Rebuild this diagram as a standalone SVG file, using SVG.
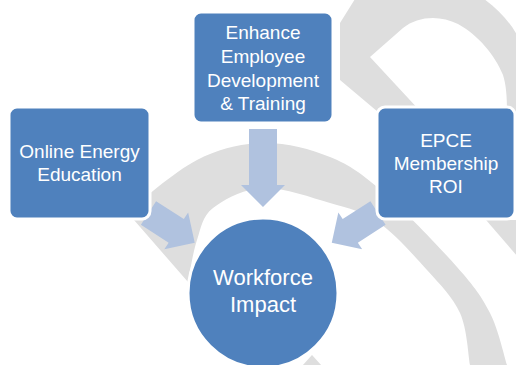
<svg xmlns="http://www.w3.org/2000/svg" width="516" height="365" viewBox="0 0 516 365">
<style>
.bg{fill:#DEDEDE;stroke:none}
.arr{fill:#B0C2DF;stroke:none}
.box{fill:#4F81BD;stroke:#FFFFFF;stroke-width:3}
.t{font-family:"Liberation Sans",Arial,sans-serif;font-size:19px;fill:#FFFFFF;text-anchor:middle}
.tc{font-size:22px}
</style>
<rect width="516" height="365" fill="#FFFFFF"/>
<g id="background">
<path class="bg" d="M127,212 C138.7,203.3 174.3,171.5 197,160 C219.7,148.5 240.8,143.5 263,143 C285.2,142.5 310,148.8 330,157 C350,165.2 361.8,173.7 383,192 C404.2,210.3 439.2,246.8 457,267 C474.8,287.2 481.7,296.7 490,313 C498.3,329.3 504.2,356.3 507,365 L508,367 L470,367 L470,365 C468.3,356.3 467.2,328.8 460,313 C452.8,297.2 440.7,285.2 427,270 C413.3,254.8 394.2,233.2 378,222 C361.8,210.8 349.2,208.7 330,203 C310.8,197.3 282.5,187.2 263,188 C243.5,188.8 224,199.3 213,208 C202,216.7 201.2,227.7 197,240 C192.8,252.3 189.5,275 188,282 Z"/>
<path class="bg" fill-rule="evenodd" d="M355,-1 L340,23 L340,80 L378,112 L517,112 L517,35 C510,22 498,9 484,-1 Z M370,57 L403,28 C418,16 440,15 458,24 C478,35 495,55 503,75 C506,85 507,95 507,112 L421,112 Z"/>
<path class="bg" d="M486,220 L517,220 L517,256 Z"/>
<path class="bg" d="M302,366 L312,355 L322,366 Z"/>
</g>
<g id="connectors">
<path class="arr" d="M249,129 H277 V185 H285 L263,207 L241,185 H249 Z"/>
<path class="arr" transform="translate(148.5,213) rotate(32.8)" d="M0,-14 H33 V-22 L55,0 L33,22 V14 H0 Z"/>
<path class="arr" transform="translate(378,213) rotate(147.2)" d="M0,-14 H33 V-22 L55,0 L33,22 V14 H0 Z"/>
</g>
<g id="online-energy-education">
<rect class="box" x="9" y="107" width="141" height="112" rx="8"/>
<text class="t" x="79.5" y="157.5">Online Energy</text>
<text class="t" x="79.5" y="181">Education</text>
</g>
<g id="enhance-employee">
<rect class="box" x="193" y="12" width="140" height="111" rx="8"/>
<text class="t" x="263" y="39">Enhance</text>
<text class="t" x="263" y="62.5">Employee</text>
<text class="t" x="263" y="86.5">Development</text>
<text class="t" x="263" y="110">&amp; Training</text>
</g>
<g id="epce-membership">
<rect class="box" x="377" y="107" width="138" height="112" rx="8"/>
<text class="t" x="446" y="146.5">EPCE</text>
<text class="t" x="446" y="170">Membership</text>
<text class="t" x="446" y="193">ROI</text>
</g>
<g id="workforce-impact">
<circle class="box" cx="263" cy="293" r="75"/>
<text class="t tc" x="263" y="285">Workforce</text>
<text class="t tc" x="263" y="311.5">Impact</text>
</g>
</svg>
